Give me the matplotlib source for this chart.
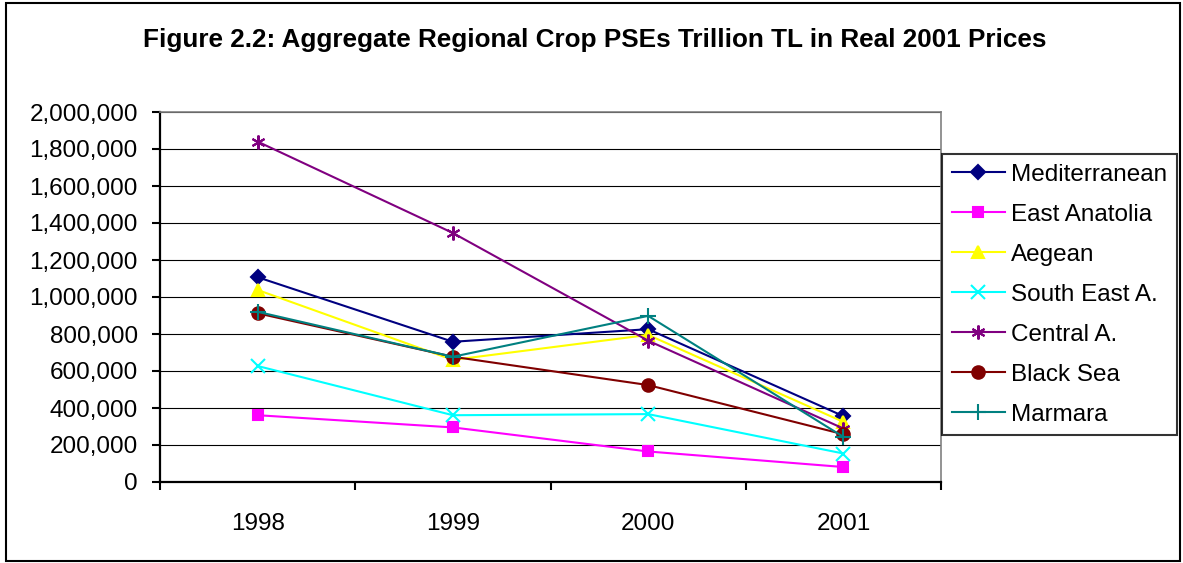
import numpy as np
import matplotlib
matplotlib.use("Agg")
import matplotlib.pyplot as plt
from matplotlib.ticker import FuncFormatter, FixedLocator
from matplotlib.patches import Rectangle

plt.rcParams['font.family'] = ['Liberation Sans', 'DejaVu Sans']

years = ['1998', '1999', '2000', '2001']
mediterranean = [1107000, 758000, 826000, 356000]
east_anatolia = [361000, 295000, 165000, 81000]
aegean = [1038000, 660000, 795000, 325000]
south_east = [627000, 361000, 367000, 154000]
central = [1840000, 1346000, 764000, 289000]
black_sea = [912000, 677000, 524000, 258000]
marmara = [920000, 677000, 898000, 244000]

names = ['Mediterranean', 'East Anatolia', 'Aegean', 'South East A.',
         'Central A.', 'Black Sea', 'Marmara']
series = [mediterranean, east_anatolia, aegean, south_east, central, black_sea, marmara]
colors = ['#000080', '#FF00FF', '#FFFF00', '#00FFFF', '#800080', '#800000', '#008080']
markers = ['D', 's', '^', 'x', (6, 2, 0), 'o', '+']
msizes = [7.5, 7.5, 9, 9.5, 10, 9, 11]

W, H = 1183, 563
fig = plt.figure(figsize=(W / 100, H / 100), dpi=100)
ax = fig.add_axes([160 / W, 1 - 482 / H, (941 - 160) / W, (482 - 112) / H])

x = np.arange(len(years))
for vals, name, c, m, ms in zip(series, names, colors, markers, msizes):
    ax.plot(x, vals, color=c, marker=m, markersize=ms, linewidth=1.5,
            markeredgewidth=1.5, label=name)

ax.set_xlim(-0.5, 3.5)
ax.set_ylim(0, 2000000)
ax.yaxis.set_major_locator(FixedLocator(np.arange(0, 2000001, 200000)))
ax.yaxis.set_major_formatter(FuncFormatter(lambda v, p: f'{v:,.0f}'))
ax.grid(axis='y', color='black', linewidth=0.8)
ax.set_axisbelow(True)

ax.set_xticks(x)
ax.set_xticklabels(years)
ax.set_xticks(np.arange(-0.5, 3.6, 1.0), minor=True)
ax.tick_params(axis='x', which='major', length=0, pad=22, labelsize=17.5)
ax.tick_params(axis='x', which='minor', length=6, width=1.5, direction='out')
ax.tick_params(axis='y', length=6, width=1.5, direction='out', pad=10, labelsize=17.5)

ax.spines['left'].set_linewidth(1.6)
ax.spines['bottom'].set_linewidth(1.6)
ax.spines['top'].set_color('#808080')
ax.spines['right'].set_color('#808080')
ax.spines['top'].set_linewidth(1.2)
ax.spines['right'].set_linewidth(1.2)

fig.text(0.5 + 3 / W, 1 - 40 / H, 'Figure 2.2: Aggregate Regional Crop PSEs Trillion TL in Real 2001 Prices',
         ha='center', va='center', fontsize=18.8, fontweight='bold')

leg = fig.legend(loc='upper left', bbox_to_anchor=(942 / W, 1 - 154 / H),
                 borderaxespad=0, fontsize=17.5, frameon=True, fancybox=False,
                 edgecolor='black', handlelength=2.2, handletextpad=0.25,
                 labelspacing=0.74, borderpad=0.4)
leg.get_frame().set_linewidth(1.5)

fig.patches.append(Rectangle((6 / W, 1 - 561 / H), (1180 - 6) / W, (561 - 3) / H,
                             transform=fig.transFigure, fill=False,
                             edgecolor='black', linewidth=1.5))

plt.savefig('out.png', dpi=100)
